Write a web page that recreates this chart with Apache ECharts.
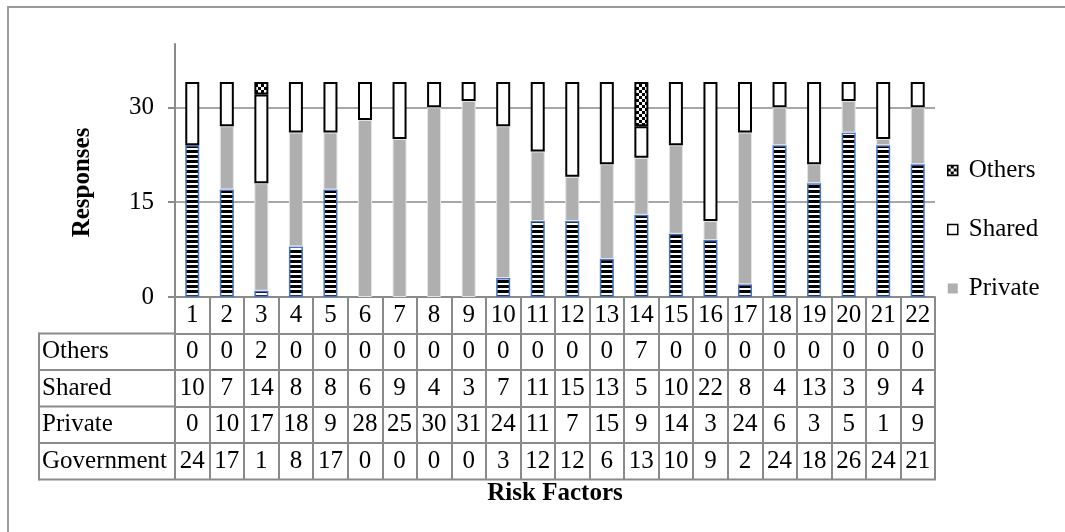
<!DOCTYPE html>
<html><head><meta charset="utf-8">
<script src="https://cdn.jsdelivr.net/npm/echarts@6/dist/echarts.min.js"></script>
<style>html,body{margin:0;padding:0;background:#fff}#c{width:1065px;height:532px}</style>
</head><body><div id="c"></div>
<script>
// ---- data ----
const categories = ['1','2','3','4','5','6','7','8','9','10','11','12','13','14','15','16','17','18','19','20','21','22'];
const others     = [0,0,2,0,0,0,0,0,0,0,0,0,0,7,0,0,0,0,0,0,0,0];
const shared     = [10,7,14,8,8,6,9,4,3,7,11,15,13,5,10,22,8,4,13,3,9,4];
const privateVals= [0,10,17,18,9,28,25,30,31,24,11,7,15,9,14,3,24,6,3,5,1,9];
const government = [24,17,1,8,17,0,0,0,0,3,12,12,6,13,10,9,2,24,18,26,24,21];
const yTicks = [0,15,30];
const rowNames = ['Others','Shared','Private','Government'];
const rowValues = [others, shared, privateVals, government];
const legendNames = ['Others','Shared','Private'];

// ---- layout / style ----
const FONT = 'Liberation Serif';
const FS = 25;
const GRAY = '#8a8a8a';
const G_LEFT = 175, G_RIGHT = 130, G_TOP = 44, G_BOTTOM = 235;
const W = 1065, H = 532;
const AXIS_Y = H - G_BOTTOM, PLOT_RIGHT_X = W - G_RIGHT;
const ROW_H = 36.5, HEAD_LEFT = 39;

function stripePattern(){
  const c = document.createElement('canvas'); c.width = 4; c.height = 5;
  const x = c.getContext('2d');
  x.fillStyle = '#fff'; x.fillRect(0,0,4,5);
  x.fillStyle = '#000'; x.fillRect(0,0,4,3);
  return c;
}
function checkerPattern(){
  const c = document.createElement('canvas'); c.width = 6; c.height = 6;
  const x = c.getContext('2d');
  x.fillStyle = '#000'; x.fillRect(0,0,6,6);
  x.fillStyle = '#fff'; x.fillRect(0,0,3,3); x.fillRect(3,3,3,3);
  return c;
}
const nz = arr => arr.map(v => v === 0 ? null : v);

const xAxes = [0,1,2,3,4].map(k => {
  const ax = {
    type: 'category', data: categories, gridIndex: 0, position: 'bottom', offset: k * ROW_H,
    axisLine: { show: true, lineStyle: { color: GRAY, width: 2 } },
    axisTick: { show: true, alignWithLabel: false, interval: 0, length: ROW_H, lineStyle: { color: GRAY, width: 2 } },
    axisLabel: { interval: 0, margin: 0, lineHeight: ROW_H, fontFamily: FONT, fontSize: FS, color: '#000' },
    splitLine: { show: false }
  };
  if (k === 0) {
    ax.name = 'Risk Factors';
    ax.nameLocation = 'middle';
    ax.nameGap = 184;
    ax.nameTextStyle = { fontFamily: FONT, fontSize: FS, fontWeight: 'bold', color: '#000' };
  } else {
    const vals = rowValues[k-1];
    ax.axisLabel.formatter = (v, i) => String(vals[i]);
    ax.name = rowNames[k-1];
    ax.nameLocation = 'start';
    ax.nameGap = G_LEFT - HEAD_LEFT - 3;
    ax.nameTextStyle = { fontFamily: FONT, fontSize: FS, color: '#000', align: 'left', verticalAlign: 'top', lineHeight: ROW_H };
  }
  return ax;
});

const graphics = [
  { type: 'rect', silent: true, z: -1, shape: { x: 8, y: 7, width: 1100, height: 600 }, style: { fill: 'none', stroke: '#9a9a9a', lineWidth: 2 } }
];
for (let k = 1; k <= 5; k++) {
  const y = AXIS_Y + k * ROW_H;
  graphics.push({ type: 'line', silent: true, shape: { x1: HEAD_LEFT, y1: y, x2: k === 5 ? PLOT_RIGHT_X + 1 : G_LEFT, y2: y }, style: { stroke: GRAY, lineWidth: 2 } });
}
graphics.push({ type: 'line', silent: true, shape: { x1: HEAD_LEFT, y1: AXIS_Y + ROW_H - 1, x2: HEAD_LEFT, y2: AXIS_Y + 5 * ROW_H + 1 }, style: { stroke: GRAY, lineWidth: 2 } });

const chart = echarts.init(document.getElementById('c'), null, { renderer: 'canvas' });
chart.setOption({
  animation: false,
  backgroundColor: '#fff',
  grid: { left: G_LEFT, right: G_RIGHT, top: G_TOP, bottom: G_BOTTOM, containLabel: false, outerBoundsMode: 'none' },
  legend: {
    orient: 'vertical', left: 942, top: 153, itemWidth: 10, itemHeight: 10, itemGap: 34, icon: 'rect',
    data: [
      { name: legendNames[0], itemStyle: { borderColor: '#000', borderWidth: 1.5 } },
      { name: legendNames[1], itemStyle: { borderColor: '#000', borderWidth: 1.5 } },
      { name: legendNames[2], itemStyle: { borderWidth: 0 } }
    ],
    textStyle: { fontFamily: FONT, fontSize: FS, color: '#000', padding: [0,0,0,6] },
    selectedMode: false
  },
  xAxis: xAxes,
  yAxis: {
    type: 'value', min: 0, max: 40,
    axisLine: { show: true, lineStyle: { color: GRAY, width: 2 } },
    axisTick: { show: true, length: 7, customValues: yTicks, lineStyle: { color: GRAY, width: 2 } },
    axisLabel: { customValues: yTicks, margin: 21, fontFamily: FONT, fontSize: FS, color: '#000' },
    splitLine: { show: true, lineStyle: { color: GRAY, width: 1.5 } },
    name: 'Responses', nameLocation: 'middle', nameGap: 80,
    nameTextStyle: { fontFamily: FONT, fontSize: FS, fontWeight: 'bold', color: '#000', padding: [0, 24, 0, 0] }
  },
  graphic: graphics,
  series: [
    { name: 'Government', type: 'bar', stack: 'all', barWidth: 14, data: nz(government),
      itemStyle: { color: { image: stripePattern(), repeat: 'repeat' }, borderColor: '#4472c4', borderWidth: 1.5 } },
    { name: 'Private', type: 'bar', stack: 'all', barWidth: 14, data: nz(privateVals),
      itemStyle: { color: '#afafaf', borderColor: '#e4e4e4', borderWidth: 1 } },
    { name: 'Shared', type: 'bar', stack: 'all', barWidth: 14, data: nz(shared),
      itemStyle: { color: '#ffffff', borderColor: '#000', borderWidth: 2 } },
    { name: 'Others', type: 'bar', stack: 'all', barWidth: 14, data: nz(others),
      itemStyle: { color: { image: checkerPattern(), repeat: 'repeat' }, borderColor: '#000', borderWidth: 2 } }
  ]
});
</script></body></html>
